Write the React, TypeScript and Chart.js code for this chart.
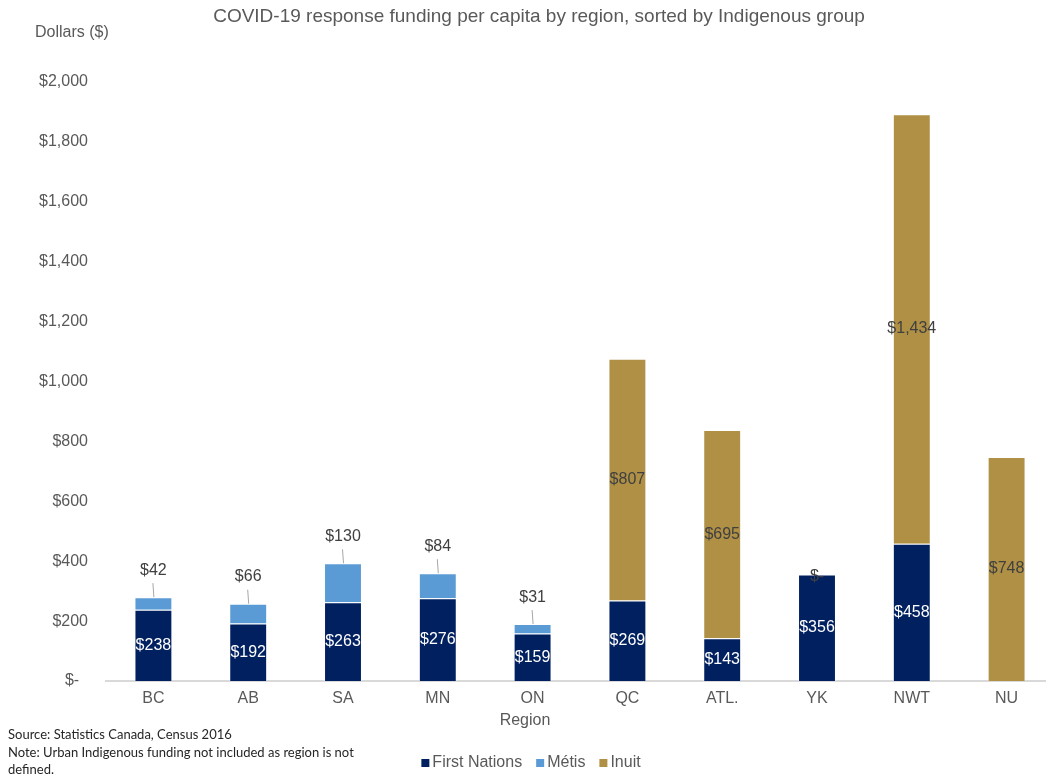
import React, { useEffect, useRef } from "react";
import { Chart, registerables } from "chart.js";

Chart.register(...registerables);

const regions = ["BC", "AB", "SA", "MN", "ON", "QC", "ATL.", "YK", "NWT", "NU"];
const firstNations = [238, 192, 263, 276, 159, 269, 143, 356, 458, null];
const metis = [42, 66, 130, 84, 31, null, null, 0, null, null];
const inuit = [null, null, null, null, null, 807, 695, null, 1434, 748];
const seriesNames = ["First Nations", "Métis", "Inuit"];
const seriesColors = ["#002060", "#5B9BD5", "#AF9045"];
const yMax = 2000;
const yStep = 200;

const titleText = "COVID-19 response funding per capita by region, sorted by Indigenous group";
const yTitle = "Dollars ($)";
const xTitle = "Region";
const noteLines = [
  "Source: Statistics Canada, Census 2016",
  "Note: Urban Indigenous funding not included as region is not",
  "defined.",
];

const FONT = '"Liberation Sans", Arial, sans-serif';
const GREY = "#595959";
const DARK = "#404040";

const fmt = (v: number) => (v === 0 ? "$-" : "$" + v.toLocaleString("en-US"));

const decorPlugin = {
  id: "decor",
  afterDatasetsDraw(chart: any) {
    const ctx = chart.ctx;
    ctx.save();
    ctx.font = `16px ${FONT}`;
    ctx.textAlign = "center";
    ctx.textBaseline = "middle";
    chart.data.datasets.forEach((ds: any, di: number) => {
      const meta = chart.getDatasetMeta(di);
      meta.data.forEach((el: any, i: number) => {
        const v = ds.data[i];
        if (v == null) return;
        const { x, y, base } = el.getProps(["x", "y", "base"], true);
        const label = fmt(v);
        if (di === 0) {
          ctx.fillStyle = "#ffffff";
          ctx.fillText(label, x, (y + base) / 2);
        } else if (di === 2) {
          ctx.fillStyle = DARK;
          ctx.fillText(label, x, (y + base) / 2);
        } else {
          if (v === 0) {
            ctx.fillStyle = DARK;
            ctx.fillText(label, x, y + 2);
          } else {
            ctx.strokeStyle = "#a6a6a6";
            ctx.lineWidth = 1;
            ctx.beginPath();
            ctx.moveTo(x + 0.5, y);
            ctx.lineTo(x - 0.5, y - 14);
            ctx.stroke();
            ctx.fillStyle = DARK;
            ctx.fillText(label, x, y - 27);
          }
        }
      });
    });
    ctx.restore();
  },
  afterDraw(chart: any) {
    const ctx = chart.ctx;
    ctx.save();
    ctx.textBaseline = "middle";
    // title
    ctx.fillStyle = GREY;
    ctx.font = `19px ${FONT}`;
    ctx.textAlign = "center";
    ctx.fillText(titleText, 539, 17);
    // y title
    ctx.font = `16px ${FONT}`;
    ctx.textAlign = "left";
    ctx.fillText(yTitle, 35, 33);
    // x title
    ctx.textAlign = "center";
    ctx.fillText(xTitle, 525, 721);
    // notes
    ctx.font = `13px Lato, "Open Sans", sans-serif`;
    ctx.fillStyle = "#262626";
    ctx.textAlign = "left";
    const ny = [735, 753, 770];
    noteLines.forEach((t, i) => ctx.fillText(t, 8, ny[i]));
    // legend
    ctx.font = `16px ${FONT}`;
    const box = 8;
    const gapBox = 3;
    const gapItem = 14;
    const widths = seriesNames.map((n) => ctx.measureText(n).width);
    const total =
      widths.reduce((a, w) => a + box + gapBox + w, 0) + gapItem * (seriesNames.length - 1);
    let lx = 531 - total / 2;
    const ly = 763;
    seriesNames.forEach((n, i) => {
      ctx.fillStyle = seriesColors[i];
      ctx.fillRect(lx, ly - box / 2, box, box);
      lx += box + gapBox;
      ctx.fillStyle = GREY;
      ctx.fillText(n, lx, ly);
      lx += widths[i] + gapItem;
    });
    ctx.restore();
  },
};

export default function App() {
  const ref = useRef<HTMLCanvasElement | null>(null);
  useEffect(() => {
    if (!ref.current) return;
    const mk = (data: (number | null)[], i: number) => ({
      label: seriesNames[i],
      data,
      backgroundColor: seriesColors[i],
      borderColor: "rgba(255,255,255,0.5)",
      borderWidth: 1,
      barPercentage: 0.4,
      categoryPercentage: 1,
    });
    const chart = new Chart(ref.current, {
      type: "bar",
      data: {
        labels: regions,
        datasets: [mk(firstNations, 0), mk(metis, 1), mk(inuit, 2)],
      },
      options: {
        responsive: false,
        animation: false,
        devicePixelRatio: 1,
        layout: { padding: { top: 82, left: 0, right: 0, bottom: 0 } },
        plugins: {
          legend: { display: false },
          title: { display: false },
          tooltip: { enabled: false },
        },
        scales: {
          x: {
            stacked: true,
            grid: { display: false, drawTicks: false },
            border: { display: true, color: "#d9d9d9", width: 2 },
            ticks: {
              color: GREY,
              font: { family: FONT, size: 16 },
              padding: 8,
              autoSkip: false,
              maxRotation: 0,
            },
            afterFit: (s: any) => {
              s.height = 96;
            },
          },
          y: {
            stacked: true,
            min: 0,
            max: yMax,
            grid: { display: false, drawTicks: false },
            border: { display: false },
            ticks: {
              stepSize: yStep,
              color: GREY,
              font: { family: FONT, size: 16 },
              padding: 18,
              callback: (v: any) => (Number(v) === 0 ? "$-  " : "$" + Number(v).toLocaleString("en-US")),
            },
            afterFit: (s: any) => {
              s.width = 106;
            },
          },
        },
      },
      plugins: [decorPlugin],
    });
    return () => chart.destroy();
  }, []);
  return (
    <div
      style={{
        position: "absolute",
        left: 0,
        top: 0,
        width: 1046,
        height: 777,
        overflow: "hidden",
        background: "#ffffff",
      }}
    >
      <canvas ref={ref} width={1054} height={777} style={{ width: 1054, height: 777, display: "block" }} />
    </div>
  );
}
